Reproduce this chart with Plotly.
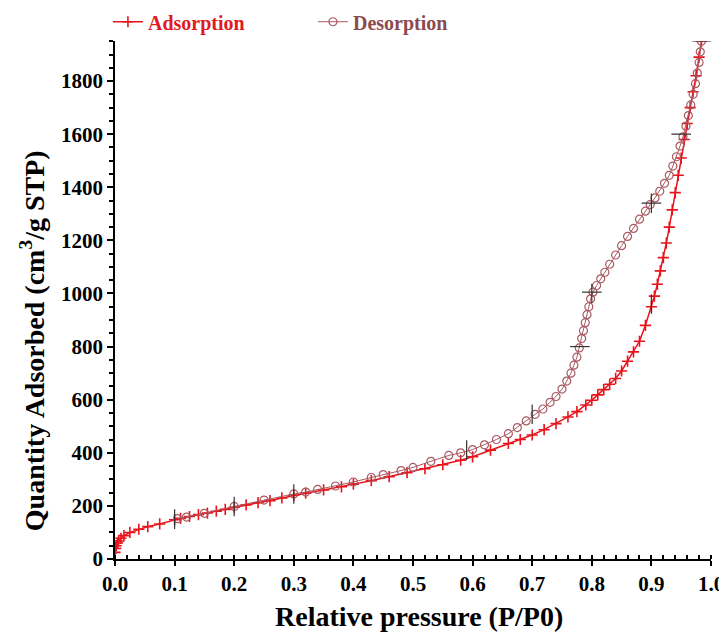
import plotly.graph_objects as go

# Adsorption branch (P/P0, quantity)
ads_x = [0.000, 0.001, 0.002, 0.004, 0.006, 0.010, 0.015, 0.025, 0.040, 0.055,
         0.075, 0.100, 0.110, 0.125, 0.140, 0.155, 0.170, 0.185, 0.200, 0.220,
         0.240, 0.260, 0.280, 0.300, 0.320, 0.350, 0.380, 0.400, 0.430, 0.460,
         0.490, 0.520, 0.550, 0.580, 0.600, 0.630, 0.660, 0.680, 0.700, 0.720,
         0.740, 0.760, 0.775, 0.790, 0.800, 0.810, 0.820, 0.830, 0.840, 0.850,
         0.860, 0.870, 0.880, 0.890, 0.900, 0.905, 0.910, 0.915, 0.920, 0.925,
         0.930, 0.935, 0.940, 0.945, 0.950, 0.955, 0.960, 0.965, 0.970, 0.975,
         0.980, 0.984]
ads_y = [25, 40, 50, 60, 68, 78, 88, 100, 112, 122,
         132, 148, 153, 160, 167, 173, 180, 187, 195, 204,
         212, 220, 230, 240, 248, 260, 272, 282, 295, 310,
         325, 340, 355, 372, 385, 410, 435, 450, 467, 487,
         510, 535, 555, 580, 598, 618, 638, 658, 680, 708,
         745, 780, 820, 880, 950, 990, 1035, 1085, 1135, 1190,
         1250, 1315, 1380, 1445, 1510, 1580, 1640, 1700, 1760, 1820,
         1890, 1950]

# Desorption branch
des_x = [0.984, 0.982, 0.980, 0.977, 0.974, 0.970, 0.966, 0.962, 0.958, 0.953,
         0.948, 0.942, 0.936, 0.930, 0.922, 0.914, 0.906, 0.898, 0.890, 0.880,
         0.870, 0.860, 0.850, 0.840, 0.830, 0.822, 0.815, 0.808, 0.802, 0.798,
         0.795, 0.792, 0.789, 0.786, 0.783, 0.779, 0.775, 0.770, 0.765, 0.758,
         0.750, 0.740, 0.730, 0.718, 0.705, 0.690, 0.675, 0.660, 0.640, 0.620,
         0.600, 0.580, 0.560, 0.530, 0.500, 0.480, 0.450, 0.430, 0.400, 0.370,
         0.340, 0.320, 0.300, 0.250, 0.200, 0.150, 0.120, 0.105]
des_y = [1950, 1910, 1870, 1830, 1790, 1750, 1710, 1670, 1630, 1590,
         1555, 1515, 1480, 1445, 1415, 1385, 1360, 1335, 1310, 1280,
         1245, 1215, 1180, 1145, 1110, 1080, 1055, 1030, 1005, 980,
         950, 920, 890, 860, 830, 795, 760, 730, 700, 670,
         640, 612, 590, 565, 545, 520, 495, 472, 450, 430,
         412, 400, 390, 368, 345, 333, 318, 307, 290, 275,
         262, 252, 245, 222, 198, 172, 158, 152]

# Stray black marks visible on the original plot
mark_v_x = [0.100, 0.200, 0.300, 0.590, 0.700, 0.800, 0.900, 0.900]
mark_v_y = [150, 198, 245, 410, 545, 1000, 1340, 960]
mark_h_x = [0.780, 0.800, 0.900, 0.950, 0.985]
mark_h_y = [800, 1005, 1340, 1600, 1950]

x_ticks = [0.0, 0.1, 0.2, 0.3, 0.4, 0.5, 0.6, 0.7, 0.8, 0.9, 1.0]
y_ticks = [0, 200, 400, 600, 800, 1000, 1200, 1400, 1600, 1800]

x_title = "Relative pressure (P/P0)"
y_title = "Quantity Adsorbed (cm<sup>3</sup>/g STP)"

RED = "#e8141c"
BROWN = "#a85a62"
FONT = "Liberation Serif"

fig = go.Figure()
fig.add_trace(go.Scatter(
    x=ads_x, y=ads_y, mode="lines+markers",
    name="<span style='color:#e01a22'>Adsorption</span>",
    line=dict(color=RED, width=1.5),
    marker=dict(symbol="cross-thin", size=8, line=dict(color=RED, width=1.6)),
))
fig.add_trace(go.Scatter(
    x=des_x, y=des_y, mode="lines+markers",
    name="<span style='color:#8c4a50'>Desorption</span>",
    line=dict(color=BROWN, width=1),
    marker=dict(symbol="circle-open", size=8, color=BROWN, line=dict(color=BROWN, width=1.2)),
))
fig.add_trace(go.Scatter(
    x=mark_v_x, y=mark_v_y, mode="markers", showlegend=False, hoverinfo="skip",
    marker=dict(symbol="line-ns", size=14, line=dict(color="#333333", width=1.2)),
))
fig.add_trace(go.Scatter(
    x=mark_h_x, y=mark_h_y, mode="markers", showlegend=False, hoverinfo="skip",
    marker=dict(symbol="line-ew", size=14, line=dict(color="#333333", width=1.2)),
))

# the page body adds an 8px offset, so the figure is 8px smaller than the window
fig.update_layout(
    width=719, height=624,
    margin=dict(l=107, r=16, t=28, b=73),
    paper_bgcolor="white", plot_bgcolor="white",
    font=dict(family=FONT, color="black"),
    showlegend=True,
    legend=dict(
        orientation="h", x=0.139, y=0.978, xanchor="left", yanchor="middle",
        xref="container", yref="container",
        font=dict(family=FONT, size=20, weight="bold"),
        entrywidth=160, entrywidthmode="pixels", itemwidth=30,
        bgcolor="rgba(0,0,0,0)",
    ),
    annotations=[
        dict(text=x_title, xref="paper", yref="paper", x=0.51, y=-0.111,
             xanchor="center", yanchor="middle", showarrow=False,
             font=dict(family=FONT, size=28, weight="bold", color="black")),
        dict(text=y_title, xref="paper", yref="paper", x=-0.139, y=0.421,
             xanchor="center", yanchor="middle", showarrow=False, textangle=-90,
             font=dict(family=FONT, size=28, weight="bold", color="black")),
    ],
)
fig.update_xaxes(
    range=[0, 1.0], tickvals=x_ticks, tickformat=".1f", automargin=False,
    showline=True, linecolor="black", linewidth=1.5,
    ticks="outside", ticklen=5, tickcolor="black", tickwidth=1.5,
    minor=dict(dtick=0.02, ticks="inside", ticklen=4, tickcolor="black"),
    showgrid=False, zeroline=False,
    tickfont=dict(family=FONT, size=21, weight="bold"),
)
fig.update_yaxes(
    range=[0, 1950], tickvals=y_ticks, automargin=False,
    showline=True, linecolor="black", linewidth=1.5,
    ticks="outside", ticklen=6, tickcolor="black", tickwidth=1.5,
    minor=dict(dtick=50, ticks="outside", ticklen=4, tickcolor="black"),
    showgrid=False, zeroline=False,
    tickfont=dict(family=FONT, size=21, weight="bold"),
)

fig.write_html("out.html")
